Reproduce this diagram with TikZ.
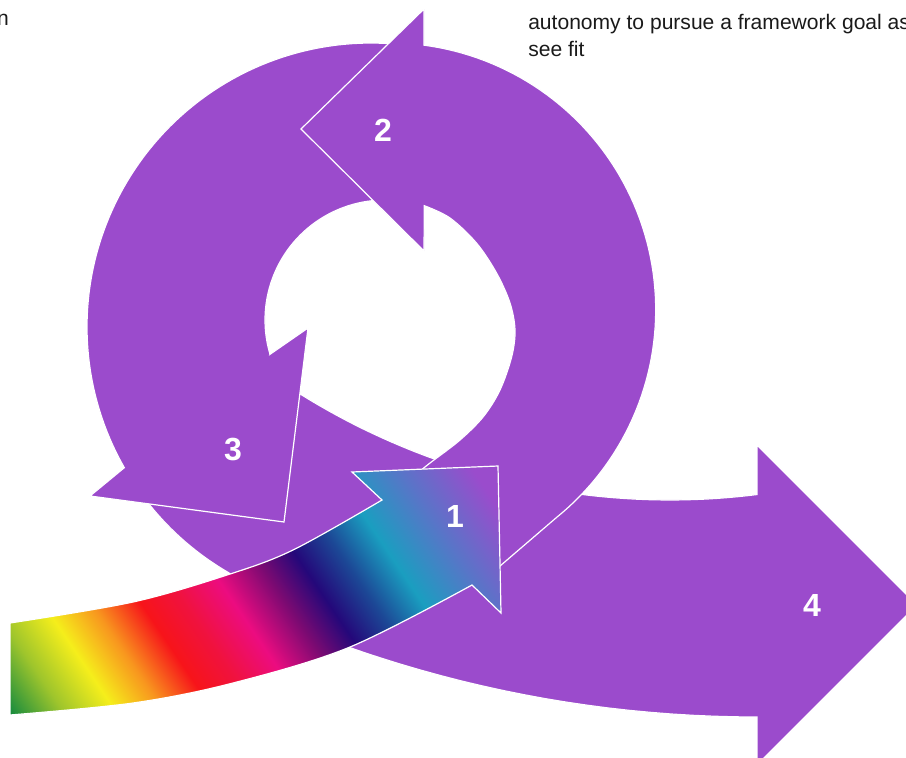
\documentclass[tikz,border=0pt]{standalone}
\usepackage{fontspec}
\setmainfont{Liberation Sans}
\definecolor{arrowpurple}{HTML}{9B4BCC}
\definecolor{gA}{HTML}{158A3E}
\definecolor{gB}{HTML}{9EC52C}
\definecolor{gC}{HTML}{F5EE1B}
\definecolor{gD}{HTML}{F8961E}
\definecolor{gE}{HTML}{F7141A}
\definecolor{gF}{HTML}{F0123E}
\definecolor{gG}{HTML}{EC0C80}
\definecolor{gH}{HTML}{7A0A72}
\definecolor{gI}{HTML}{24087A}
\definecolor{gJ}{HTML}{1C4896}
\definecolor{gK}{HTML}{1A9EC0}
\definecolor{gL}{HTML}{5A74C8}
\definecolor{gM}{HTML}{9A4CCC}
\definecolor{bodygrey}{HTML}{1A1A1A}
\pgfdeclarehorizontalshading{rainbowshade}{100bp}{color(0bp)=(gA); color(25bp)=(gA); color(29.2bp)=(gB); color(33.2bp)=(gC); color(36.9bp)=(gD); color(40.7bp)=(gE); color(44bp)=(gF); color(47.8bp)=(gG); color(51.8bp)=(gH); color(55bp)=(gI); color(58.5bp)=(gJ); color(62.2bp)=(gK); color(67.4bp)=(gL); color(72.9bp)=(gM); color(75bp)=(gM); color(100bp)=(gM)}
\tikzset{
  purplearrow/.style={fill=arrowpurple, draw=white, line width=0.9pt, line join=miter},
  outlineonly/.style={draw=white, line width=0.9pt, line join=miter},
  numlabel/.style={text=white, inner sep=0pt, font=\fontsize{24}{24}\selectfont\bfseries},
  bodytext/.style={text=bodygrey, inner sep=0pt, anchor=base west, font=\fontsize{15.8}{20}\selectfont}
}
\begin{document}
\begin{tikzpicture}[x=0.75pt, y=-0.75pt]
\useasboundingbox (0,0) rectangle (906,757);

% text
\node[bodytext] (tx1) at (528,29) {autonomy to pursue a framework goal as};
\node[bodytext] (tx2) at (528,56) {see fit};
\node[bodytext, anchor=base east] (tx3) at (9,25) {n};

% arrow 4
\path[purplearrow] (285,384)
  -- plot[domain=123.5:82.83, samples=50, variable=\t] ({670+698*cos(\t)},{-198+698*sin(\t)})
  -- (757,445) -- (917,605) -- (757,765) -- (757,717)
  -- plot[domain=90:109.4, samples=40, variable=\t] ({757+1230*cos(\t)},{-513+1230*sin(\t)})
  -- plot[domain=120.3:145.4, samples=20, variable=\t] ({371+284*cos(\t)},{327+284*sin(\t)})
  -- cycle;

% arrow 3
\path[purplearrow] (124.3,467.7) -- (90,496) -- (284,522) -- (308,328) -- (270,354.3)
  -- plot[domain=-196.6:-84.8, samples=50, variable=\t] ({385+120*cos(\t)},{320+120*sin(\t)})
  -- (399.7,44.5)
  -- plot[domain=-84.2:-209.7, samples=80, variable=\t] ({371+284*cos(\t)},{327+284*sin(\t)})
  -- cycle;

% arrow 2
\path[purplearrow] (424.3,205.7) -- (424,251) -- (301,129) -- (424,9) -- (424,45)
  -- plot[domain=-82.4:51, samples=80, variable=\t] ({388.7+267*cos(\t)},{309.8+267*sin(\t)})
  -- (500,566) -- (485,579) -- (415,476) -- (423.3,468.3)
  -- plot[smooth, tension=0.55] coordinates {(423.3,468.3) (431.7,461.7) (460,440) (483.3,416.7) (500,390) (511.7,356.7) (515,330) (510,303) (496.7,273.3) (476.7,243.3) (450,218) (424.3,205.7)}
  -- cycle;

% arrow 1 (gradient)
\begin{scope}
\clip (10,623) -- plot[smooth, tension=0.55] coordinates {(10,623) (133,602) (227,575) (293,550) (382,500)}
  -- (352,472) -- (498,466) -- (501,613) -- (472,585)
  -- plot[smooth, tension=0.55] coordinates {(472,585) (350,647) (233,683) (133,703) (10,715)} -- cycle;
\shade[shading=rainbowshade, transform canvas={rotate=34}] (-391,-1200) rectangle (152,1200);
\end{scope}
\path[outlineonly] (10,623) -- plot[smooth, tension=0.55] coordinates {(10,623) (133,602) (227,575) (293,550) (382,500)}
  -- (352,472) -- (498,466) -- (501,613) -- (472,585)
  -- plot[smooth, tension=0.55] coordinates {(472,585) (350,647) (233,683) (133,703) (10,715)} -- cycle;

% labels
\node[numlabel] (n1) at (455,516) {1};
\node[numlabel] (n2) at (383,130) {2};
\node[numlabel] (n3) at (233,449) {3};
\node[numlabel] (n4) at (812,605) {4};
\end{tikzpicture}
\end{document}
